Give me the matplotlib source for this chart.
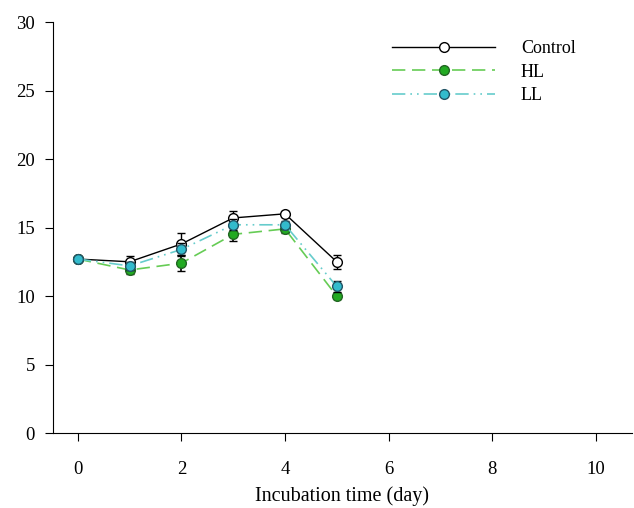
import numpy as np
import matplotlib.pyplot as plt

plt.rcParams['font.family'] = ['Liberation Serif', 'DejaVu Serif']

days = [0, 1, 2, 3, 4, 5]
control = [12.7, 12.5, 13.8, 15.7, 16.0, 12.5]
control_err = [0.0, 0.4, 0.8, 0.5, 0.2, 0.5]
hl = [12.7, 11.9, 12.4, 14.5, 14.9, 10.0]
hl_err = [0.0, 0.3, 0.6, 0.5, 0.3, 0.2]
ll = [12.7, 12.2, 13.4, 15.2, 15.2, 10.7]
ll_err = [0.0, 0.3, 0.5, 0.4, 0.3, 0.4]

fig = plt.figure(figsize=(6.34, 5.08), dpi=100)
ax = fig.add_axes([0.0836, 0.1476, 0.913, 0.809])

ax.errorbar(days, control, yerr=control_err, color='black', lw=1, marker='o',
            mfc='white', mec='black', ms=7, capsize=3, ecolor='black', label='Control', zorder=3)
ax.errorbar(days, hl, yerr=hl_err, color='#66cc55', lw=1.2, ls=(0, (8, 4)), marker='o',
            mfc='#22aa22', mec='#226622', ms=7, capsize=3, ecolor='black', label='HL', zorder=4)
ax.errorbar(days, ll, yerr=ll_err, color='#66cccc', lw=1.2, ls=(0, (8, 3, 1, 3, 1, 3)), marker='o',
            mfc='#33bbcc', mec='#225566', ms=7, capsize=3, ecolor='black', label='LL', zorder=5)

ax.set_xlim(-0.48, 10.7)
ax.set_ylim(0, 30)
ax.set_xticks([0, 2, 4, 6, 8, 10])
ax.set_yticks([0, 5, 10, 15, 20, 25, 30])
ax.spines['top'].set_visible(False)
ax.spines['right'].set_visible(False)
ax.tick_params(direction='out', length=6, labelsize=13.5)
ax.tick_params(axis='x', pad=14)
ax.tick_params(axis='y', pad=7)
ax.set_xlabel('Incubation time (day)', fontsize=14.5, labelpad=6)

handles, labels = ax.get_legend_handles_labels()
handles = [h[0] for h in handles]
ax.legend(handles, labels, loc='upper left', bbox_to_anchor=(0.557, 0.995), frameon=False,
          fontsize=13, handlelength=5.75, labelspacing=0.35, handletextpad=1.4)

fig.savefig('out.png', dpi=100)
